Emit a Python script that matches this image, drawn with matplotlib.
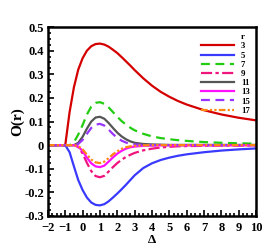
import matplotlib
matplotlib.use("Agg")
import matplotlib.pyplot as plt
from matplotlib.lines import Line2D
from matplotlib.ticker import AutoMinorLocator, FuncFormatter

delta = [-2, -1.5, -1, -0.75, -0.5, -0.25, 0, 0.25, 0.5, 0.75, 1, 1.25, 1.5, 1.75,
         2, 2.25, 2.5, 2.75, 3, 3.5, 4, 4.5, 5, 5.5, 6, 7, 8, 9, 10]

o_r3 = [0, 0, 0, 0.14, 0.245, 0.32, 0.368, 0.4, 0.419, 0.428, 0.43, 0.426, 0.417, 0.404,
        0.39, 0.373, 0.355, 0.337, 0.318, 0.283, 0.252, 0.226, 0.205, 0.187, 0.172,
        0.148, 0.13, 0.116, 0.105]
o_r5 = [0, 0, 0, -0.03, -0.09, -0.148, -0.19, -0.222, -0.243, -0.253, -0.255, -0.25,
        -0.238, -0.222, -0.205, -0.187, -0.168, -0.148, -0.128, -0.097, -0.077, -0.063,
        -0.053, -0.045, -0.039, -0.03, -0.023, -0.018, -0.014]
o_r7 = [0, 0, 0, 0, 0.012, 0.045, 0.085, 0.13, 0.163, 0.179, 0.182, 0.175, 0.16, 0.14,
        0.12, 0.102, 0.087, 0.074, 0.063, 0.048, 0.037, 0.03, 0.025, 0.021, 0.018,
        0.013, 0.01, 0.008, 0.006]
o_r9 = [0, 0, 0, 0, 0, -0.008, -0.035, -0.075, -0.11, -0.131, -0.136, -0.13, -0.112,
        -0.093, -0.076, -0.062, -0.05, -0.041, -0.033, -0.022, -0.015, -0.01, -0.007,
        -0.005, -0.004, -0.003, -0.002, -0.002, -0.001]
o_r11 = [0, 0, 0, 0, 0, 0.01, 0.035, 0.07, 0.1, 0.117, 0.12, 0.112, 0.094, 0.073,
         0.053, 0.037, 0.025, 0.016, 0.01, 0.005, 0.003, 0.002, 0.001, 0.001, 0.001,
         0.001, 0.001, 0.001, 0.001]
o_r13 = [0, 0, 0, 0, 0, -0.006, -0.025, -0.053, -0.077, -0.09, -0.093, -0.087, -0.07,
         -0.052, -0.036, -0.024, -0.015, -0.009, -0.006, -0.003, -0.002, -0.001, -0.001,
         -0.001, -0.001, -0.001, -0.001, -0.001, -0.001]
o_r15 = [0, 0, 0, 0, 0, 0.005, 0.022, 0.048, 0.073, 0.087, 0.09, 0.083, 0.066, 0.047,
         0.031, 0.019, 0.011, 0.006, 0.003, 0.001, 0, 0, 0, 0, 0, 0, 0, 0, 0]
o_r17 = [0, 0, 0, 0, 0, -0.004, -0.018, -0.04, -0.061, -0.073, -0.076, -0.07, -0.055,
         -0.039, -0.026, -0.016, -0.009, -0.005, -0.003, -0.001, 0, 0, 0, 0, 0, 0, 0, 0, 0]

labels = ["3", "5", "7", "9", "11", "13", "15", "17"]
series = [o_r3, o_r5, o_r7, o_r9, o_r11, o_r13, o_r15, o_r17]
colors = ["#d40000", "#3a3aff", "#22cc11", "#f0147f", "#555555", "#ff11ff", "#9933ff", "#ff8811"]
styles = ["-", "-", (0, (4, 2.5)), (0, (5, 1.5, 1.5, 1.5)), "-", "-", (0, (4, 2.5)),
          (0, (3, 1, 1, 1, 1, 1))]


def main():
    plt.rcParams["font.family"] = "Liberation Serif"
    plt.rcParams["font.weight"] = "bold"

    fig = plt.figure(figsize=(2.77, 2.46), dpi=100)
    ax = fig.add_axes([0.173, 0.122, 0.751, 0.768])

    handles = [Line2D([], [], color="none", label="r")]
    for y, lab, c, ls in zip(series, labels, colors, styles):
        h, = ax.plot(delta, y, color=c, linestyle=ls, linewidth=1.6, label=lab)
        handles.append(h)

    ax.set_xlim(-2, 10)
    ax.set_ylim(-0.3, 0.5)
    ax.set_xticks(range(-2, 11))
    ax.set_yticks([-0.3, -0.2, -0.1, 0, 0.1, 0.2, 0.3, 0.4, 0.5])
    ax.yaxis.set_major_formatter(FuncFormatter(lambda v, p: "0" if abs(v) < 1e-9 else f"{v:.1f}"))
    ax.xaxis.set_minor_locator(AutoMinorLocator(4))
    ax.yaxis.set_minor_locator(AutoMinorLocator(4))
    ax.tick_params(which="both", direction="in", top=False, right=False,
                   width=1.2, labelsize=9)
    ax.tick_params(axis="x", pad=4)
    ax.tick_params(axis="y", pad=3)
    ax.tick_params(which="major", length=4)
    ax.tick_params(which="minor", length=2)
    for s in ax.spines.values():
        s.set_linewidth(1.8)

    ax.set_xlabel("Δ", fontsize=9.5, fontweight="bold", labelpad=0.5)
    ax.set_ylabel("O(r)", fontsize=11, fontweight="bold", labelpad=0)

    ax.legend(handles=handles, loc="upper right", bbox_to_anchor=(1.0, 1.0),
              frameon=False, fontsize=6.3, handlelength=3.8, labelspacing=0.12,
              handletextpad=0.8, borderaxespad=0.3)

    fig.savefig("out.png", dpi=100)


if __name__ == "__main__":
    main()
